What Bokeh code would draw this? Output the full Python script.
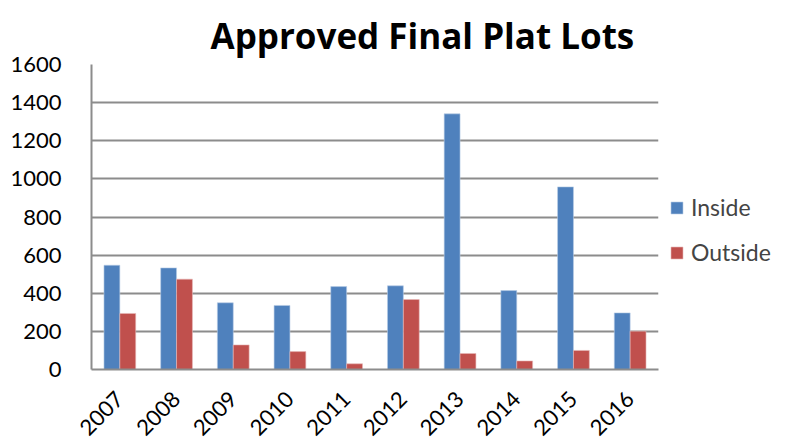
import math
from bokeh.plotting import figure
from bokeh.models import ColumnDataSource, Range1d, FactorRange, Legend, LegendItem, SingleIntervalTicker
from bokeh.transform import dodge
from bokeh.embed import file_html
from bokeh.resources import INLINE

years = ["2007", "2008", "2009", "2010", "2011", "2012", "2013", "2014", "2015", "2016"]
inside = [547, 533, 350, 336, 435, 439, 1341, 414, 958, 297]
outside = [294, 474, 129, 94, 30, 367, 84, 45, 100, 201]

FONT = "Lato"
BLUE = "#4F81BD"
RED = "#C0504D"
GRID = "#8C8C8C"

src = ColumnDataSource(dict(year=years, inside=inside, outside=outside))

p = figure(x_range=FactorRange(*years), y_range=Range1d(0, 1600),
           frame_width=567, frame_height=305,
           min_border_left=91, min_border_top=64, min_border_bottom=64, min_border_right=10,
           output_backend="svg", toolbar_location=None,
           title="Approved Final Plat Lots")
p.title.text_font = "Open Sans"
p.title.text_font_style = "bold"
p.title.text_font_size = "35px"
p.title.align = "left"
p.title.offset = 119
p.title.standoff = 12
p.title.text_line_height = 0.8
p.title.text_color = "#000000"

r1 = p.vbar(x=dodge("year", -0.14, range=p.x_range), top="inside", width=0.28,
            source=src, fill_color=BLUE, line_color="#B9CDE5", line_width=0.6)
r2 = p.vbar(x=dodge("year", 0.14, range=p.x_range), top="outside", width=0.28,
            source=src, fill_color=RED, line_color="#E6B9B8", line_width=0.6)

p.outline_line_color = None
p.xgrid.grid_line_color = None
p.ygrid.grid_line_color = GRID
p.ygrid.grid_line_width = 2
p.yaxis.ticker = SingleIntervalTicker(interval=200)

for ax in (p.xaxis[0], p.yaxis[0]):
    ax.axis_line_color = GRID
    ax.axis_line_width = 2
    ax.major_tick_line_color = None
    ax.minor_tick_line_color = None
    ax.major_label_text_font = FONT
    ax.major_label_text_font_size = "22px"
    ax.major_label_text_color = "#000000"

p.yaxis.major_label_standoff = 24
p.xaxis.major_label_orientation = math.pi / 4
p.xaxis.major_label_standoff = 20

legend = Legend(items=[LegendItem(label="Inside", renderers=[r1]),
                       LegendItem(label="Outside", renderers=[r2])],
                location=(11, 103), border_line_color=None, background_fill_alpha=0,
                label_text_font=FONT, label_text_font_size="23px",
                glyph_width=15, glyph_height=15, spacing=17, label_standoff=7,
                padding=0, margin=0)
p.add_layout(legend, "right")

open("out.html", "w").write(file_html(p, INLINE))
